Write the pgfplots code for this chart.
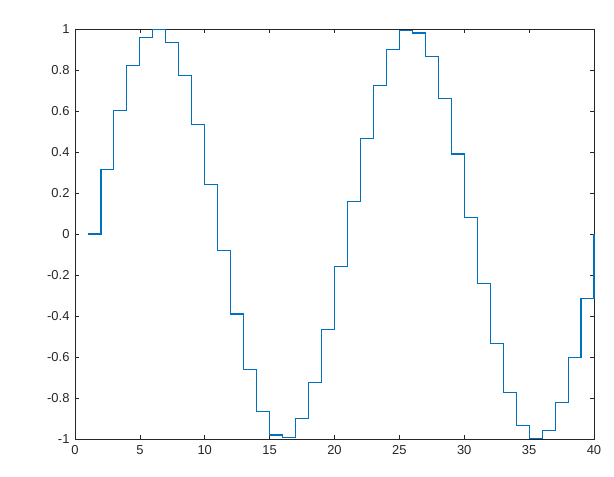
\documentclass[border=0pt]{standalone}
\usepackage{fontspec}
\setmainfont{Liberation Sans}
\usepackage{pgfplots}
\pgfplotsset{compat=1.18}
\definecolor{mblue}{rgb}{0,0.447,0.741}
\definecolor{mgray}{rgb}{0.15,0.15,0.15}
\begin{document}
\begin{tikzpicture}[x=1bp,y=1bp]
\begin{axis}[
  set layers,
  at={(0bp,0bp)}, anchor=south west,
  scale only axis, width=519bp, height=410bp,
  xmin=0, xmax=40, ymin=-1, ymax=1,
  xtick={0,5,...,40},
  ytick={-1,-0.8,...,1},
  yticklabel style={/pgf/number format/fixed,/pgf/number format/precision=1, xshift=-2bp},
  xticklabel style={yshift=-3bp},
  /pgf/number format/assume math mode=true,
  tick align=inside, major tick length=4bp,
  axis line style={mgray, line width=0.6bp},
  every tick/.style={mgray, line width=0.6bp},
  ticklabel style={font=\fontsize{13}{15}\selectfont, text=mgray},
  xtick pos=both, ytick pos=both,
  clip=false,
]
\addplot[const plot, mblue, line width=1.1bp] coordinates {
(1,0) (2,0.3167) (3,0.6007) (4,0.8230) (5,0.9605) (6,0.9992) (7,0.9350)
(8,0.7743) (9,0.5350) (10,0.2403) (11,-0.0805) (12,-0.3903) (13,-0.6631)
(14,-0.8660) (15,-0.9807) (16,-0.9927) (17,-0.9010) (18,-0.7248) (19,-0.4647)
(20,-0.1604) (21,0.1604) (22,0.4647) (23,0.7248) (24,0.9010) (25,0.9927)
(26,0.9807) (27,0.8660) (28,0.6631) (29,0.3903) (30,0.0805) (31,-0.2403)
(32,-0.5350) (33,-0.7743) (34,-0.9350) (35,-0.9992) (36,-0.9605) (37,-0.8230)
(38,-0.6007) (39,-0.3167) (40,0)
};
\end{axis}
\path[use as bounding box] (-75bp,-38bp) rectangle (539bp,439bp);
\end{tikzpicture}
\end{document}
